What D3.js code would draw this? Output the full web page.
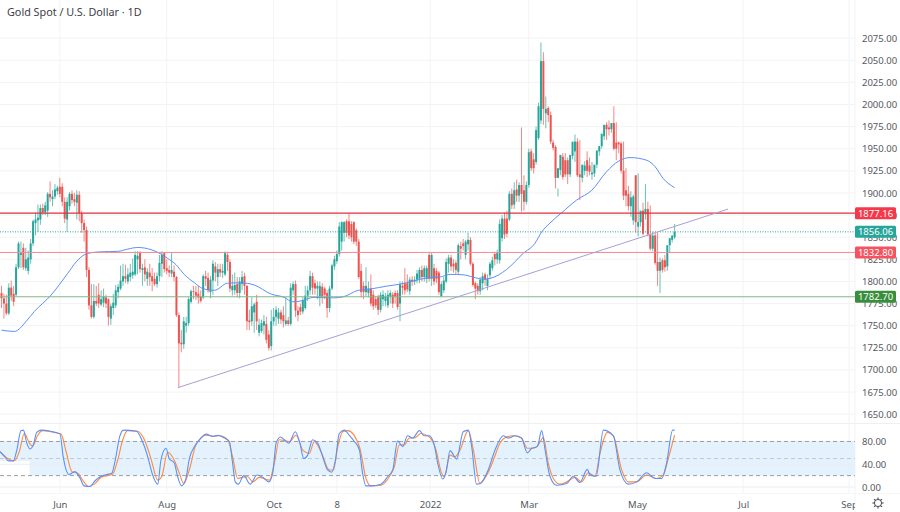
<!DOCTYPE html>
<html><head><meta charset="utf-8">
<script src="https://cdn.jsdelivr.net/npm/d3@7"></script>
<style>html,body{margin:0;padding:0;background:#fff;overflow:hidden}svg{display:block}text{font-family:"Noto Sans",sans-serif}</style>
</head><body><svg id="c" width="900" height="512"></svg>
<script>
const title = "Gold Spot / U.S. Dollar · 1D";
const opens = [
1787,1781,1775,1764,1793,1786,1785,1816,1830,1838,
1815,1812,1825,1843,1866,1869,1870,1883,1878,1880,
1899,1893,1896,1902,1907,1907,1890,1870,1885,1899,
1893,1889,1898,1877,1866,1858,1813,1773,1760,1778,
1785,1774,1776,1782,1780,1758,1770,1773,1788,1792,
1800,1806,1800,1805,1807,1808,1825,1832,1813,1816,
1803,1810,1806,1803,1797,1806,1820,1832,1815,1813,
1809,1811,1805,1762,1731,1729,1750,1753,1777,1789,
1788,1786,1783,1782,1806,1804,1788,1801,1817,1805,
1814,1810,1808,1830,1822,1790,1790,1797,1787,1797,
1806,1795,1756,1755,1765,1777,1742,1744,1750,1752,
1740,1727,1755,1760,1758,1765,1762,1752,1756,1752,
1790,1797,1767,
1771,1766,1770,1784,1790,1806,1798,1792,1783,1794,
1792,1787,1770,1792,1817,1823,1831,1845,1855,1868,
1868,1865,1867,1858,1845,1812,1795,1788,1787,1792,
1785,1780,1782,1768,1780,1778,1773,1783,1785,1787,
1787,1775,1795,1798,1798,1789,1802,1800,
1802,1803,1813,1805,1803,1830,1803,1815,1812,1810,
1783,1790,1800,1820,1827,1820,1821,1811,1840,1843,
1830,1842,1847,1820,1798,1795,1789,1798,1808,1795,
1807,1815,1831,1825,1824,1849,1871,1871,1870,1899,
1887,1904,1897,1909,1903,1890,1909,1947,1938,1935,
1962,1982,2049,1990,1996,1988,1957,1952,1917,1926,
1941,1937,1937,1921,1942,1947,1958,1921,1917,1925,
1937,1931,1921,1922,1932,1947,1953,1964,1977,1974,
1972,1979,1957,1957,1956,1925,1903,1899,1885,1869,
1920,1862,1867,1880,1876,1882,1853,1837,1852,1822,
1812,1824,1824,1817,1841,1847,1850];
const highs = [
1795,1786,1785,1798,1801,1795,1820,1845,1845,1843,
1838,1835,1848,1870,1878,1887,1887,1888,1890,1901,
1913,1903,1910,1908,1917,1911,1895,1895,1901,1903,
1900,1903,1902,1880,1870,1862,1816,1797,1797,1795,
1798,1790,1792,1785,1781,1775,1786,1796,1797,1818,
1820,1819,1815,1820,1826,1834,1834,1834,1820,1825,
1815,1820,1815,1810,1810,1830,1834,1833,1825,1818,
1833,1818,1806,1765,1745,1760,1760,1782,1791,1795,
1795,1795,1790,1808,1812,1810,1806,1824,1822,1820,
1820,1820,1834,1833,1825,1808,1810,1805,1805,1812,
1810,1796,1768,1782,1776,1785,1758,1757,1762,1760,
1745,1768,1770,1772,1770,1768,1772,1782,1760,1798,
1800,1801,1772,
1775,1782,1795,1795,1812,1810,1802,1800,1800,1798,
1794,1790,1795,1820,1829,1835,1867,1868,1868,1870,
1877,1868,1868,1860,1848,1820,1800,1816,1800,1808,
1790,1783,1785,1788,1790,1787,1790,1790,1788,1790,
1790,1800,1800,1815,1808,1805,1806,1806,
1813,1816,1818,1818,1818,1832,1832,1820,1815,1812,
1800,1805,1826,1830,1830,1825,1824,1843,1845,1848,
1847,1855,1850,1822,1800,1798,1805,1810,1810,1808,
1822,1828,1833,1836,1870,1875,1878,1880,1902,1905,
1912,1915,1912,1974,1920,1913,1950,1950,1945,1975,
2002,2070,2059,2009,1998,1992,1960,1954,1905,1935,
1945,1945,1940,1939,1946,1966,1962,1960,1925,1936,1947,
1940,1935,1930,1935,1952,1957,1970,1980,1982,1978,
1998,1980,1958,1958,1958,1928,1908,1902,1898,1920,
1922,1872,1889,1910,1890,1886,1856,1855,1855,1827,
1826,1830,1833,1847,1851,1865,1858];
const lows = [
1770,1758,1762,1762,1778,1772,1783,1814,1815,1813,
1812,1808,1820,1840,1852,1856,1864,1875,1875,1873,
1890,1885,1893,1898,1895,1885,1866,1856,1880,1888,
1885,1870,1868,1855,1845,1805,1768,1758,1758,1772,
1770,1772,1771,1770,1750,1751,1762,1770,1781,1790,
1795,1798,1797,1800,1803,1806,1808,1810,1795,1800,
1795,1795,1789,1795,1793,1800,1805,1810,1808,1805,
1805,1800,1760,1680,1720,1724,1742,1750,1775,1780,
1779,1775,1776,1780,1795,1787,1781,1785,1800,1795,
1805,1804,1806,1812,1788,1784,1785,1782,1781,1790,
1785,1745,1745,1750,1742,1745,1738,1742,1740,1730,
1722,1722,1750,1750,1752,1752,1748,1750,1750,1750,
1785,1760,1755,
1762,1763,1768,1778,1785,1785,1785,1780,1772,1775,
1780,1759,1765,1790,1813,1820,1828,1835,1845,1850,
1848,1845,1842,1840,1803,1782,1780,1783,1782,1772,
1768,1770,1762,1765,1772,1772,1770,1775,1770,1775,
1768,1755,1785,1785,1788,1785,1795,1796,
1798,1798,1800,1800,1798,1800,1795,1796,1798,1785,
1783,1787,1798,1810,1812,1810,1808,1808,1825,1835,
1825,1835,1818,1794,1780,1785,1785,1790,1795,1790,
1803,1812,1818,1820,1820,1845,1848,1850,1868,1882,
1882,1890,1890,1879,1880,1887,1906,1925,1922,1932,
1960,1978,1977,1973,1980,1955,1948,1905,1896,1920,
1915,1918,1910,1918,1938,1935,1918,1892,1912,1920,
1918,1920,1915,1918,1928,1942,1950,1960,1960,1965,
1968,1948,1937,1945,1922,1892,1885,1880,1873,1864,
1855,1851,1862,1852,1870,1851,1835,1834,1819,1795,
1787,1810,1811,1812,1833,1844,1848];
const closes = [
1781,1775,1764,1793,1784,1777,1816,1843,1832,1816,
1825,1827,1843,1868,1870,1872,1883,1878,1886,1899,
1895,1896,1904,1906,1899,1890,1871,1890,1899,1892,
1890,1898,1877,1866,1858,1813,1773,1760,1778,1775,
1775,1780,1783,1775,1760,1772,1776,1790,1794,1801,
1806,1803,1808,1810,1811,1830,1829,1814,1815,1808,
1811,1805,1800,1797,1806,1821,1830,1814,1812,1810,
1813,1805,1762,1730,1729,1755,1753,1780,1789,1788,
1784,1782,1778,1806,1803,1790,1802,1820,1810,1814,
1810,1812,1832,1822,1792,1795,1796,1787,1800,1805,
1795,1755,1754,1772,1774,1755,1751,1753,1755,1734,
1725,1755,1760,1768,1765,1757,1755,1756,1752,1793,
1797,1767,1762,
1766,1779,1784,1790,1806,1793,1792,1795,1795,1783,
1785,1770,1792,1818,1825,1831,1862,1867,1867,1855,
1852,1850,1845,1845,1805,1788,1788,1795,1792,1775,
1772,1773,1768,1785,1785,1783,1785,1787,1775,1783,
1771,1797,1793,1790,1791,1802,1800,1802,
1809,1813,1805,1815,1815,1803,1830,1800,1803,1788,
1797,1801,1822,1827,1817,1817,1813,1841,1837,1840,
1845,1847,1820,1796,1792,1789,1802,1806,1802,1803,
1820,1824,1825,1832,1865,1871,1853,1854,1899,1886,
1903,1897,1909,1899,1890,1909,1946,1928,1928,1971,
1998,2049,1995,1995,1988,1958,1951,1917,1928,1943,
1918,1921,1921,1943,1958,1958,1920,1918,1932,1931,
1925,1924,1923,1932,1948,1953,1967,1977,1972,1972,
1979,1950,1950,1955,1925,1897,1897,1885,1895,1896,
1867,1867,1880,1854,1882,1853,1837,1852,1821,1812,
1822,1813,1816,1841,1849,1852,1856];

const maIdx = [0,5.3,6.7,10,13.5,20.4,27.2,30.7,34,36.8,41,47.8,52,56,61.5,65.6,68.4,71.8,75.2,79.4,82.8,87.6,93,98.5,104,111,116.4,119.8,123.2,128.3,136.6,140.7,146.8,151.6,158.5,164,169.5,175,180.4,184.6,190,194,198,201,207.9,214.7,219.5,222.3,225.7,230.5,236.7,242.9,249,254,258.7,265.5,269,272.3,277];
const maVal = [1745,1743.5,1745,1754.5,1766,1784.6,1809,1822,1830,1832.4,1833.5,1834,1836.6,1838.4,1836,1831,1826,1819,1808,1798.5,1792,1790,1798,1798.5,1796,1785.7,1782,1777,1778,1782,1781.5,1782.7,1790,1791.4,1794.7,1797,1800.4,1804,1805,1808,1807.5,1805,1802.6,1803.4,1813.6,1831.7,1843,1856,1866,1877.6,1892,1903,1924,1936,1940,1937,1929.6,1916.4,1906];

const kIdx = [-0.6,1.4,2.8,4.9,6.3,8,9,10.4,11.7,13.1,14.5,16.5,19.3,22.1,24.1,25.4,27.8,30.2,32.4,34,36.4,38.5,40.6,43.3,45.4,46.8,48.6,50.2,55.6,57.7,60.2,62.2,64.3,65.6,67.7,69,71.1,72.5,74.1,75.9,77.3,79.4,82.1,84.2,86.9,89,91.7,93.8,95.1,96.2,97.5,99.7,102.4,105.1,107.5,110,111.6,113,114.8,116.4,118.2,120.9,122.8,124.4,126,128,130.1,132.2,134.2,135.9,137.4,139,141.1,143.1,145.2,147.3,148.6,150,152,156.2,158.9,161,163,165.1,167.1,169.2,172,174,176,178.1,179.5,181.6,183,184.6,187.3,190,192.1,193.5,195.5,196.9,200.3,203.1,206.5,208.6,211.3,214,216.4,218.2,220.5,222.3,223.7,225.7,228.5,232.6,235.3,238,241.1,242.2,244.7,247.7,251.8,254.5,258,261.4,265.5,268.9,271.7,273.7,276.2,277];
const kVal = [62,53,46,46,65,99,100,77,67,74,96,100,99,96,93,53,22,27,15,2,1,11,18,22,24,47,88,100,98,83,53,21,5,47,68,50,42,18,2,15,50,71,86,93,89,91,86,80,42,9,5,20,5,21,17,9,24,77,88,83,77,97,77,50,56,83,77,53,30,26,47,94,100,91,80,65,24,2,2,5,18,30,81,71,90,86,99,90,90,74,42,14,27,64,49,97,100,71,5,6,30,65,90,86,90,86,60,68,71,99,65,19,3,6,19,8,31,21,19,100,90,30,5,9,25,15,15,42,100,100];
const dIdx = [-0.6,2.5,5.3,7.3,9.4,11.5,12.8,14.9,17,20.4,24.5,26.6,29,31.4,33.4,35.7,38.2,41,45.8,47.8,49.9,51.9,56,58.8,61.5,64.3,65.9,68.4,71.1,73.2,75,77.3,80,84.2,87.6,89.7,93.1,95.1,97.2,99.2,101.3,103.4,106.1,110.2,112.3,114.3,118.5,121.2,124,126.7,128.7,131.5,134.9,136.6,138.4,140.4,142.5,147.3,150,152,156.2,159.6,161.7,163.7,165.8,167.8,169.9,172.6,176,178.8,180.9,182.2,184.6,186.6,188.7,192.1,194.2,196.9,199.7,202.4,205.1,207.9,210.6,214,216.4,218.9,220.9,223,225,227.1,229.8,232.6,236,238.7,241.5,244.2,246.3,249.3,251.8,255.2,258,261.4,265.5,269.6,272.3,274.4,277];
const dVal = [62,50,46,62,94,77,72,91,99,97,93,62,27,24,12,1,5,17,23,47,83,99,98,83,50,12,18,61,47,24,6,30,74,91,89,90,83,53,15,17,18,9,17,12,42,83,80,91,65,59,80,62,30,30,71,97,99,71,15,2,3,18,36,74,74,86,86,94,88,65,27,18,56,53,65,99,65,6,21,47,77,88,90,86,68,68,74,87,42,15,5,9,17,9,25,19,59,96,90,30,9,9,21,15,21,50,91];

const priceTicks = d3.range(1650, 2076, 25);
const stochTicks = [0, 40, 80];
const stochLevels = [80, 50, 20];
const dateTicks = [24, 68, 112, 138, 176.4, 217, 261.5, 305.2, 348.8];
const dateLabels = ["Jun","Aug","Oct","8","2022","Mar","May","Jul","Sep"];
const hLevels = [1877.16, 1856.06, 1832.80, 1782.70];
const hLabels = ["1877.16","1856.06","1832.80","1782.70"];
const hColors = ["#e0303c","#26a69a","#f8868d","#81b784"];
const hFills = ["#f5394a","#26a69a","#f5535f","#388e3c"];
const trendIdx = [72.6, 299];
const trendVal = [1680, 1881.8];

const W = 855;
const svg = d3.select("#c");
const x = d3.scaleLinear().domain([0, 277]).range([1.5, 674.6]);
const y = d3.scaleLinear().domain([1650, 2075]).range([414.2, 38.1]);
const ys = d3.scaleLinear().domain([0, 100]).range([487, 430.1]);
const defs = svg.append("defs");
defs.append("clipPath").attr("id","plot").append("rect").attr("width",W).attr("height",424);
defs.append("clipPath").attr("id","pane").append("rect").attr("y",424).attr("width",W).attr("height",70);
defs.append("clipPath").attr("id","bot").append("rect").attr("y",494).attr("width",W).attr("height",18);

const grid = "#f3f3f4";
// grid
svg.append("g").selectAll("line").data(priceTicks).join("line")
  .attr("x1",0).attr("x2",W).attr("y1",d=>y(d)).attr("y2",d=>y(d)).attr("stroke",grid);
svg.append("g").selectAll("line").data(dateTicks).join("line")
  .attr("x1",d=>x(d)).attr("x2",d=>x(d)).attr("y1",0).attr("y2",493).attr("stroke",grid);
svg.append("line").attr("x1",0).attr("x2",900).attr("y1",423.5).attr("y2",423.5).attr("stroke","#efeff1");
svg.append("line").attr("x1",W).attr("x2",W).attr("y1",0).attr("y2",512).attr("stroke","#f3f3f4");
svg.append("line").attr("x1",0).attr("x2",900).attr("y1",493.5).attr("y2",493.5).attr("stroke","#f6f6f7");

// candles
const up = "#26a69a", dn = "#ef5350";
const idx = d3.range(closes.length);
const plot = svg.append("g").attr("clip-path","url(#plot)");
plot.append("g").selectAll("line").data(idx).join("line")
  .attr("x1",i=>x(i)).attr("x2",i=>x(i)).attr("y1",i=>y(highs[i])).attr("y2",i=>y(lows[i]))
  .attr("stroke",i=>closes[i]>=opens[i]?up:dn).attr("stroke-width",0.7);
plot.append("g").selectAll("rect").data(idx).join("rect")
  .attr("x",i=>x(i)-1).attr("width",2)
  .attr("y",i=>Math.min(y(opens[i]),y(closes[i])))
  .attr("height",i=>Math.max(0.8,Math.abs(y(opens[i])-y(closes[i]))))
  .attr("fill",i=>closes[i]>=opens[i]?up:dn);

// moving average
plot.append("path").attr("fill","none").attr("stroke","#5b8ff9").attr("stroke-width",1)
  .attr("d",d3.line().x((d,i)=>x(maIdx[i])).y(d=>y(d)).curve(d3.curveMonotoneX)(maVal));

// horizontal levels
plot.append("g").selectAll("line").data(hLevels).join("line")
  .attr("x1",0).attr("x2",W).attr("y1",d=>y(d)).attr("y2",d=>y(d))
  .attr("stroke",(d,i)=>hColors[i]).attr("stroke-width",(d,i)=>i==0?1.2:1)
  .attr("stroke-dasharray",(d,i)=>i==1?"1 1.5":null);

// trend line
plot.append("path").attr("fill","none").attr("stroke","#a79fd8").attr("stroke-width",1)
  .attr("d",d3.line().x((d,i)=>x(trendIdx[i])).y(d=>y(d))(trendVal));

// stochastic pane
const pane = svg.append("g").attr("clip-path","url(#pane)");
pane.append("rect").attr("x",x(12)-1).attr("width",W).attr("y",ys(80)).attr("height",ys(20)-ys(80)).attr("fill","#e3f2fd");
pane.append("rect").attr("x",0).attr("width",x(12)).attr("y",ys(80)).attr("height",ys(46)-ys(80)).attr("fill","#e3f2fd");
pane.append("g").selectAll("line").data(stochTicks).join("line")
  .attr("x1",0).attr("x2",W).attr("y1",d=>ys(d)).attr("y2",d=>ys(d)).attr("stroke","#e7eef5");
pane.append("g").selectAll("line").data(stochLevels).join("line")
  .attr("x1",0).attr("x2",W).attr("y1",d=>ys(d)).attr("y2",d=>ys(d))
  .attr("stroke",d=>d==50?"#c4c8cf":"#9a9ea6").attr("stroke-dasharray","4 3");
pane.append("path").attr("fill","none").attr("stroke","#ff8a3d").attr("stroke-width",1.1)
  .attr("d",d3.line().x((d,i)=>x(dIdx[i])).y(d=>ys(d)).curve(d3.curveMonotoneX)(dVal));
pane.append("path").attr("fill","none").attr("stroke","#5b8ff9").attr("stroke-width",1.1)
  .attr("d",d3.line().x((d,i)=>x(kIdx[i])).y(d=>ys(d)).curve(d3.curveMonotoneX)(kVal));

// axes
const txt = "#545861";
const fs = "9.5px";
const ay = svg.append("g").attr("transform","translate(855,0)").call(
  d3.axisRight(y).tickValues(priceTicks).tickFormat(d3.format(".2f")).tickSize(0).tickPadding(7));
ay.select(".domain").remove();
ay.selectAll("text").attr("fill",txt).style("font-size",fs).style("font-family",'"Noto Sans"');
const ayS = svg.append("g").attr("transform","translate(855,0)").call(
  d3.axisRight(ys).tickValues(stochTicks).tickFormat(d3.format(".2f")).tickSize(0).tickPadding(7));
ayS.select(".domain").remove();
ayS.selectAll("text").attr("fill",txt).style("font-size",fs).style("font-family",'"Noto Sans"');
const ax = svg.append("g").attr("clip-path","url(#bot)").append("g").attr("transform","translate(0,495)").call(
  d3.axisBottom(x).tickValues(dateTicks).tickFormat((d,i)=>dateLabels[i]).tickSize(0).tickPadding(6));
ax.select(".domain").remove();
ax.selectAll("text").attr("fill",txt).style("font-size",fs).style("font-family",'"Noto Sans"');

// price tags
const tag = svg.append("g").selectAll("g").data(hLevels).join("g")
  .attr("transform",d=>`translate(855,${y(d)})`);
tag.append("rect").attr("x",0).attr("y",-6).attr("width",41).attr("height",12).attr("rx",1.5)
  .attr("fill",(d,i)=>hFills[i]);
tag.append("text").attr("x",20.5).attr("y",3.4).attr("text-anchor","middle").attr("fill","#fff")
  .style("font-size",fs).text((d,i)=>hLabels[i]);

// title
svg.append("text").attr("x",7).attr("y",16).attr("fill","#3d4048").style("font-size","10.8px").text(title);

// gear icon
const g = svg.append("g").attr("transform","translate(878,503)").attr("fill","none").attr("stroke","#4a4e57");
g.append("circle").attr("r",3.6).attr("stroke-width",1);
g.selectAll("line").data(d3.range(8)).join("line")
  .attr("x1",d=>3.6*Math.cos(d*Math.PI/4)).attr("y1",d=>3.6*Math.sin(d*Math.PI/4))
  .attr("x2",d=>5.6*Math.cos(d*Math.PI/4)).attr("y2",d=>5.6*Math.sin(d*Math.PI/4)).attr("stroke-width",1.1);
</script></body></html>
